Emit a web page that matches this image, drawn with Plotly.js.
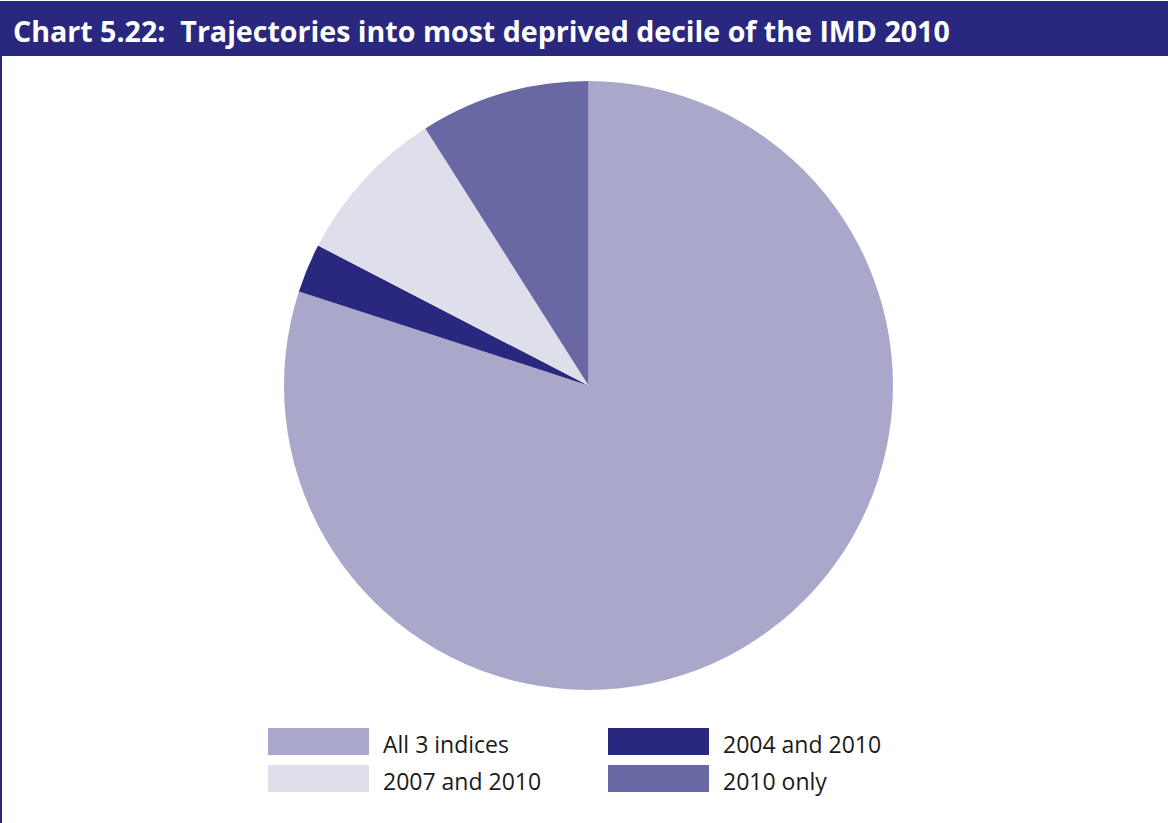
<!DOCTYPE html>
<html>
<head>
<meta charset="utf-8">
<script src="https://cdn.plot.ly/plotly-3.0.1.min.js"></script>
<style>
html,body{margin:0;padding:0;background:#fff;}
#chart{width:1168px;height:823px;}
</style>
</head>
<body>
<div id="chart"></div>
<script>
const chartTitle = "Chart 5.22:  Trajectories into most deprived decile of the IMD 2010";
const categories = ["All 3 indices", "2004 and 2010", "2007 and 2010", "2010 only"];
const shares = [80.0, 2.6, 8.4, 9.0];
const colors = ["#a9a8cb", "#29287e", "#dfdfec", "#6a68a4"];

const W = 1168, H = 823;
const px = x => x / W;
const py = y => 1 - y / H;

const pie = {
  type: "pie",
  labels: categories,
  values: shares,
  sort: false,
  direction: "clockwise",
  rotation: 0,
  textinfo: "none",
  hoverinfo: "label+value",
  marker: {colors: colors, line: {width: 0}},
  showlegend: false,
  domain: {x: [px(283), px(894)], y: [py(690), py(81)]}
};

const shapes = [
  {type: "rect", xref: "paper", yref: "paper", x0: 0, x1: 1, y0: py(56), y1: py(1),
   fillcolor: "#29287e", line: {width: 0}, layer: "below"},
  {type: "line", xref: "paper", yref: "paper", x0: px(1), x1: px(1), y0: 0, y1: py(56),
   line: {color: "#29287e", width: 2}}
];
const annotations = [
  {text: "<b>" + chartTitle + "</b>", xref: "paper", yref: "paper", x: px(11), y: py(30),
   xanchor: "left", yanchor: "middle", showarrow: false,
   font: {family: "Open Sans", size: 28.6, color: "#ffffff"}}
];

// custom legend, 2 columns, row-major
const colX = [268, 608];
const rowY = [728, 765];
const swW = 101, swH = 27;
categories.forEach((c, i) => {
  const col = i % 2, row = Math.floor(i / 2);
  const x0 = colX[col], y0 = rowY[row];
  shapes.push({type: "rect", xref: "paper", yref: "paper",
    x0: px(x0), x1: px(x0 + swW), y0: py(y0 + swH), y1: py(y0),
    fillcolor: colors[i], line: {width: 0}});
  annotations.push({text: c, xref: "paper", yref: "paper",
    x: px(x0 + swW + 12), y: py(y0 + swH / 2 + 2), xanchor: "left", yanchor: "middle",
    showarrow: false, font: {family: "Open Sans", size: 23, color: "#1a1a1a"}});
});

const layout = {
  width: W, height: H,
  margin: {l: 0, r: 0, t: 0, b: 0},
  paper_bgcolor: "#ffffff",
  showlegend: false,
  shapes: shapes,
  annotations: annotations
};

Plotly.newPlot("chart", [pie], layout, {displayModeBar: false, staticPlot: true});
</script>
</body>
</html>
